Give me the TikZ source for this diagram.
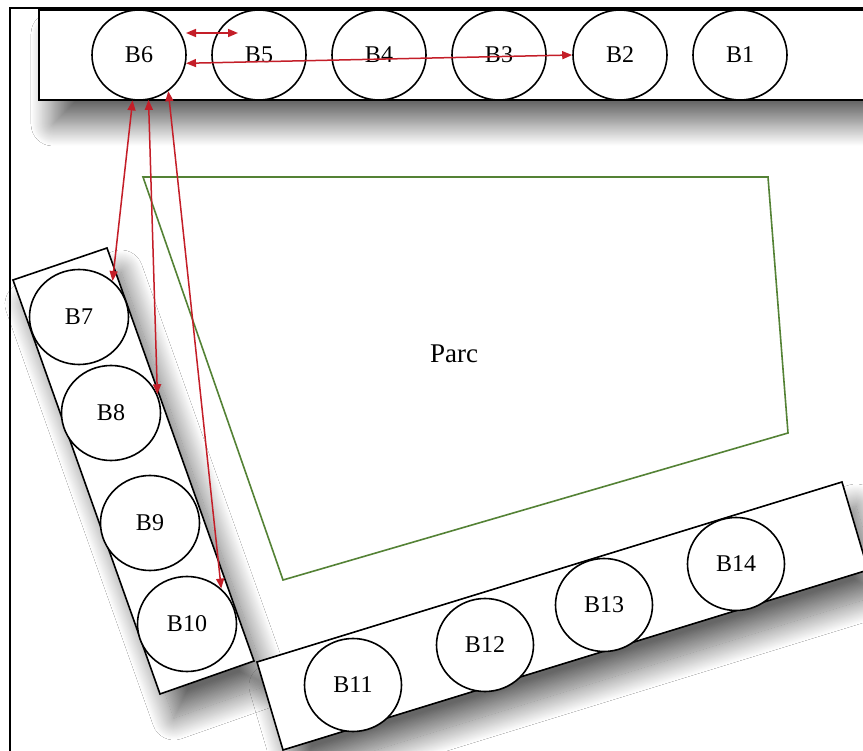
\documentclass[tikz,border=0pt]{standalone}
\usepackage{fontspec}
\setmainfont{Liberation Serif}
\usetikzlibrary{shapes.geometric,arrows.meta,shadows.blur}
\definecolor{linkred}{RGB}{196,30,40}
\definecolor{parkgreen}{RGB}{84,130,53}
\tikzset{
  x=1pt,y=-1pt,
  frameline/.style={draw=black,line width=2.4pt},
  blockbox/.style={draw=black,line width=1.6pt,fill=white,
    blur shadow={shadow xshift=14pt,shadow yshift=-24pt,shadow blur radius=22pt,shadow blur steps=30,shadow opacity=60}},
  bat/.style={ellipse,draw=black,line width=1.6pt,fill=white,inner sep=0pt,font=\fontsize{24}{28}\selectfont},
  battop/.style={bat,minimum width=94pt,minimum height=90pt},
  batleft/.style={bat,minimum width=99pt,minimum height=95pt},
  batbot/.style={bat,minimum width=97pt,minimum height=93pt},
  parkline/.style={draw=parkgreen,line width=1.6pt},
  link/.style={draw=linkred,line width=1.5pt,{Triangle[length=10pt,width=8pt]}-{Triangle[length=10pt,width=8pt]}},
}
\begin{document}
\begin{tikzpicture}
\useasboundingbox (0,0) rectangle (863,751);
\fill[white] (0,0) rectangle (863,751);
% outer frame
\draw[frameline] (10,790) -- (10,8) -- (900,8);
% blocks
\path[blockbox] (39,10) -- (900,10) -- (900,100) -- (39,100) -- cycle;
\path[blockbox] (13,280) -- (107,248) -- (254,661) -- (160,694) -- cycle;
\path[blockbox] (257,662) -- (842,482) -- (868,570) -- (283,750) -- cycle;
% park
\draw[parkline] (143,177) -- (768,177) -- (788,433) -- (283,580) -- cycle;
\node[font=\fontsize{27}{32}\selectfont] (parc) at (454,354) {Parc};
% buildings
\node[battop] (b6) at (139,55) {B6};
\node[battop] (b5) at (259,55) {B5};
\node[battop] (b4) at (379,55) {B4};
\node[battop] (b3) at (499,55) {B3};
\node[battop] (b2) at (620,55) {B2};
\node[battop] (b1) at (740,55) {B1};
\node[batleft] (b7) at (79,317) {B7};
\node[batleft] (b8) at (111,413) {B8};
\node[batleft] (b9) at (150,523) {B9};
\node[batleft] (b10) at (187,624) {B10};
\node[batbot] (b11) at (353,685) {B11};
\node[batbot] (b12) at (485,645) {B12};
\node[batbot] (b13) at (604,605) {B13};
\node[batbot] (b14) at (736,564) {B14};
% links
\coordinate (l1a) at (186,33);
\coordinate (l1b) at (238,33);
\draw[link] (l1a) -- (l1b);
\draw[link] (b6.350) -- (b2.west);
\draw[link] (b6.262) -- (b7.47);
\draw[link] (b6.282) -- (b8.22);
\draw[link] (b6.309) -- (b10.46);
\end{tikzpicture}
\end{document}
